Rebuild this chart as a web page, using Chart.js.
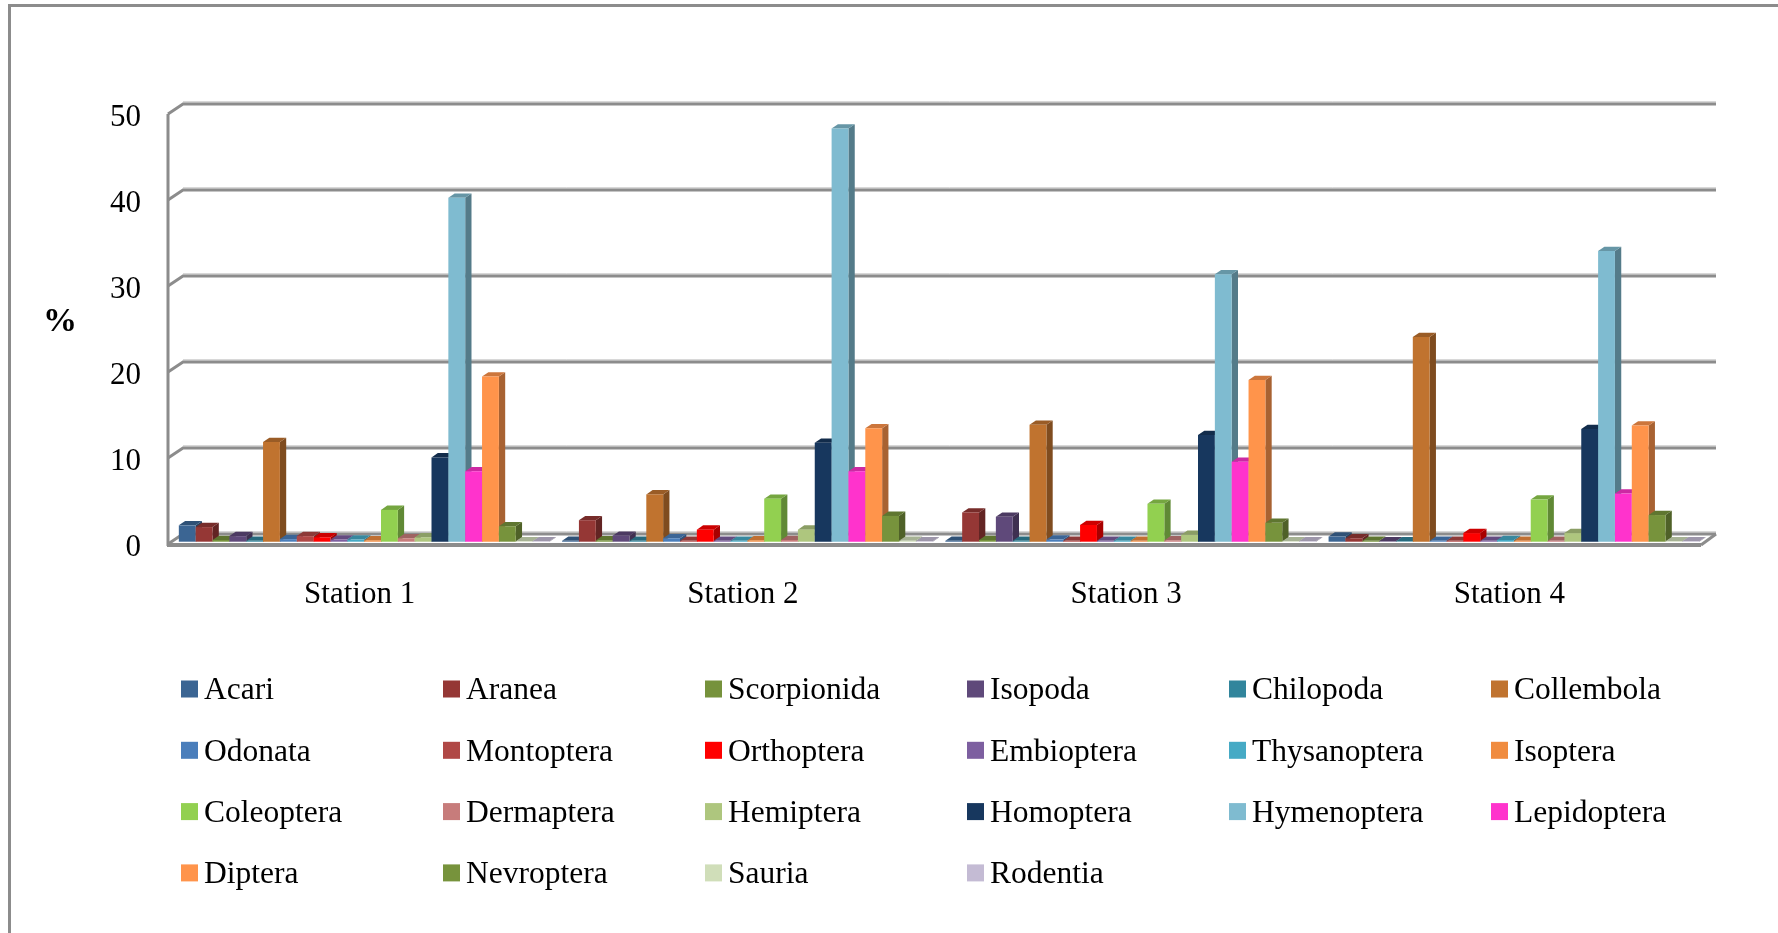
<!DOCTYPE html>
<html>
<head>
<meta charset="utf-8">
<title>Arthropod orders by station</title>
<script src="https://cdn.jsdelivr.net/npm/chart.js@4"></script>
<style>
  html, body { margin: 0; background: #fff; }
  #wrap { position: relative; width: 1778px; height: 933px; }
</style>
</head>
<body>
<div id="wrap"><canvas id="canvas" width="1778" height="933"></canvas></div>
<script>
var STATIONS = [ "Station 1", "Station 2", "Station 3", "Station 4" ];

var ORDERS = [ "Acari", "Aranea", "Scorpionida", "Isopoda", "Chilopoda", "Collembola",
               "Odonata", "Montoptera", "Orthoptera", "Embioptera", "Thysanoptera", "Isoptera",
               "Coleoptera", "Dermaptera", "Hemiptera", "Homoptera", "Hymenoptera", "Lepidoptera",
               "Diptera", "Nevroptera", "Sauria", "Rodentia" ];

// percentages per order, same sequence as ORDERS
var STATION_1 = [ 1.9, 1.7, 0.2, 0.65, 0.1, 11.6, 0.3, 0.65, 0.5, 0.25, 0.25, 0.15,
                  3.7, 0.4, 0.5, 9.8, 40.0, 8.2, 19.2, 1.8, 0.05, 0.05 ];
var STATION_2 = [ 0.1, 2.5, 0.15, 0.7, 0.1, 5.5, 0.4, 0.1, 1.4, 0.1, 0.1, 0.15,
                  5.0, 0.2, 1.4, 11.5, 48.05, 8.2, 13.2, 3.0, 0.1, 0.05 ];
var STATION_3 = [ 0.1, 3.4, 0.2, 2.9, 0.1, 13.6, 0.25, 0.1, 1.95, 0.1, 0.1, 0.1,
                  4.4, 0.15, 0.8, 12.4, 31.1, 9.3, 18.8, 2.2, 0.05, 0.05 ];
var STATION_4 = [ 0.6, 0.4, 0.1, 0.05, 0.05, 23.8, 0.1, 0.1, 1.0, 0.1, 0.2, 0.1,
                  4.9, 0.1, 1.0, 13.1, 33.8, 5.6, 13.5, 3.1, 0.05, 0.05 ];

var Y_TICKS = [ 0, 10, 20, 30, 40, 50 ];

var COLORS = [ "#3b6593", "#953735", "#76923c", "#5f497a", "#31859c", "#c0732f",
               "#4a7ebb", "#b04846", "#ff0000", "#7d5fa0", "#46aac5", "#f08c40",
               "#92d050", "#c77c7b", "#aec67e", "#17375e", "#7fbbd0", "#ff33cc",
               "#ff944b", "#77933c", "#d0deb9", "#c4bbd4" ];

var FONT = '"Liberation Serif", "Times New Roman", serif';
var AXIS_GRAY = "#8c8c8c";
var AXIS_LIGHT = "#b0b0b0";

// front plane of the chart box, chartArea is set to this
var BOX = { left : 168, right : 1701, top : 114, bottom : 544 };
// the back wall sits up and to the right of the front plane
var WALL_DX = 15, WALL_DY = -10;
// bars stand halfway into the floor and have a short depth of their own
var BAR_DX = 4.5, BAR_DY = -2.3;
var DEPTH_X = 6.3, DEPTH_Y = 4.3;

function shade(hex, k) {
	var n = parseInt(hex.slice(1), 16);
	var r = Math.round((n >> 16 & 255) * k);
	var g = Math.round((n >> 8 & 255) * k);
	var b = Math.round((n & 255) * k);
	return "rgb(" + r + "," + g + "," + b + ")";
}

function strokeLine(ctx, x0, y0, x1, y1) {
	ctx.beginPath();
	ctx.moveTo(x0, y0);
	ctx.lineTo(x1, y1);
	ctx.stroke();
}

function drawWalls(chart) {
	var ctx = chart.ctx, y = chart.scales.y;
	ctx.save();
	ctx.strokeStyle = AXIS_GRAY;
	ctx.lineWidth = 3;
	strokeLine(ctx, BOX.left, y.getPixelForValue(50), BOX.left, y.getPixelForValue(0) + 2);
	Y_TICKS.forEach(function(tick) {
		var py = y.getPixelForValue(tick);
		ctx.strokeStyle = AXIS_GRAY;
		ctx.lineWidth = 3;
		ctx.beginPath();
		ctx.moveTo(BOX.left, py);
		ctx.lineTo(BOX.left + WALL_DX, py + WALL_DY);
		ctx.lineTo(BOX.right + WALL_DX, py + WALL_DY);
		ctx.stroke();
		// soft upper edge of the gridline
		ctx.strokeStyle = AXIS_LIGHT;
		ctx.lineWidth = 1;
		strokeLine(ctx, BOX.left + WALL_DX, py + WALL_DY - 2, BOX.right + WALL_DX, py + WALL_DY - 2);
	});
	// floor: front edge and the right hand corner
	var py0 = y.getPixelForValue(0);
	ctx.strokeStyle = AXIS_GRAY;
	ctx.lineWidth = 4;
	strokeLine(ctx, BOX.left - 1, py0 + 1, BOX.right, py0 + 1);
	ctx.lineWidth = 3;
	strokeLine(ctx, BOX.right, py0 + 1, BOX.right + WALL_DX, py0 + WALL_DY);
	ctx.restore();
}

function drawBar(ctx, bar, color) {
	var left = bar.x - bar.width / 2, right = bar.x + bar.width / 2;
	// side face
	ctx.fillStyle = shade(color, 0.66);
	ctx.beginPath();
	ctx.moveTo(right, bar.y);
	ctx.lineTo(right + DEPTH_X, bar.y - DEPTH_Y);
	ctx.lineTo(right + DEPTH_X, bar.base - DEPTH_Y);
	ctx.lineTo(right, bar.base);
	ctx.closePath();
	ctx.fill();
	// top face
	ctx.fillStyle = shade(color, 0.8);
	ctx.beginPath();
	ctx.moveTo(left, bar.y);
	ctx.lineTo(left + DEPTH_X, bar.y - DEPTH_Y);
	ctx.lineTo(right + DEPTH_X, bar.y - DEPTH_Y);
	ctx.lineTo(right, bar.y);
	ctx.closePath();
	ctx.fill();
	// front face is the library's own element
	bar.draw(ctx);
}

var box3d = {
	id : "box3d",
	beforeDraw : function(chart) {
		var ctx = chart.ctx;
		ctx.save();
		ctx.strokeStyle = AXIS_GRAY;
		ctx.lineWidth = 3;
		ctx.beginPath();
		ctx.moveTo(9.5, 933);
		ctx.lineTo(9.5, 5.5);
		ctx.lineTo(1778, 5.5);
		ctx.stroke();
		ctx.restore();
	},
	// bars go left to right so each one hides the side of the previous one
	beforeDatasetsDraw : function(chart) {
		var ctx = chart.ctx;
		drawWalls(chart);
		ctx.save();
		ctx.translate(BAR_DX, BAR_DY);
		chart.data.datasets.forEach(function(ds, i) {
			chart.getDatasetMeta(i).data.forEach(function(bar) {
				drawBar(ctx, bar, ds.backgroundColor);
			});
		});
		ctx.restore();
		return false;
	},
	afterDraw : function(chart) {
		var ctx = chart.ctx;
		ctx.save();
		ctx.textBaseline = "middle";
		ctx.font = "31.5px " + FONT;
		chart.data.datasets.forEach(function(ds, i) {
			var col = i % 6, row = Math.floor(i / 6);
			var x = 181 + col * 262, y = 689 + row * 61.3;
			ctx.fillStyle = ds.backgroundColor;
			ctx.fillRect(x, y - 8.5, 17, 17);
			ctx.fillStyle = "#000";
			ctx.fillText(ds.label, x + 23, y + 2);
		});
		ctx.font = "bold 34px " + FONT;
		ctx.textAlign = "center";
		ctx.fillText("%", 60, 322);
		ctx.restore();
	}
};

var stationValues = [ STATION_1, STATION_2, STATION_3, STATION_4 ];

var barChartData = {
	labels : STATIONS,
	datasets : ORDERS.map(function(name, i) {
		return {
			label : name,
			backgroundColor : COLORS[i],
			borderWidth : 0,
			barPercentage : 1,
			categoryPercentage : 0.967,
			data : stationValues.map(function(values) { return values[i]; })
		};
	})
};

new Chart(document.getElementById("canvas").getContext("2d"), {
	type : "bar",
	data : barChartData,
	plugins : [ box3d ],
	options : {
		responsive : false,
		animation : false,
		layout : { padding : { left : 0, right : 1778 - BOX.right, top : BOX.top, bottom : 0 } },
		plugins : {
			legend : { display : false },
			title : { display : false },
			tooltip : { enabled : false }
		},
		scales : {
			x : {
				grid : { display : false, drawTicks : false },
				border : { display : false },
				ticks : {
					color : "#000",
					padding : 32,
					maxRotation : 0,
					font : { family : FONT, size : 31 }
				},
				afterFit : function(scale) {
					scale.height = 933 - BOX.bottom;
					scale.paddingLeft = 0;
					scale.paddingRight = 0;
				}
			},
			y : {
				min : 0,
				max : 50,
				grid : { display : false, drawTicks : false },
				border : { display : false },
				ticks : {
					color : "#000",
					stepSize : 10,
					padding : 27,
					labelOffset : 3.5,
					font : { family : FONT, size : 31 }
				},
				afterFit : function(scale) {
					scale.width = BOX.left;
					scale.paddingTop = 0;
					scale.paddingBottom = 0;
				}
			}
		}
	}
});
</script>
</body>
</html>
